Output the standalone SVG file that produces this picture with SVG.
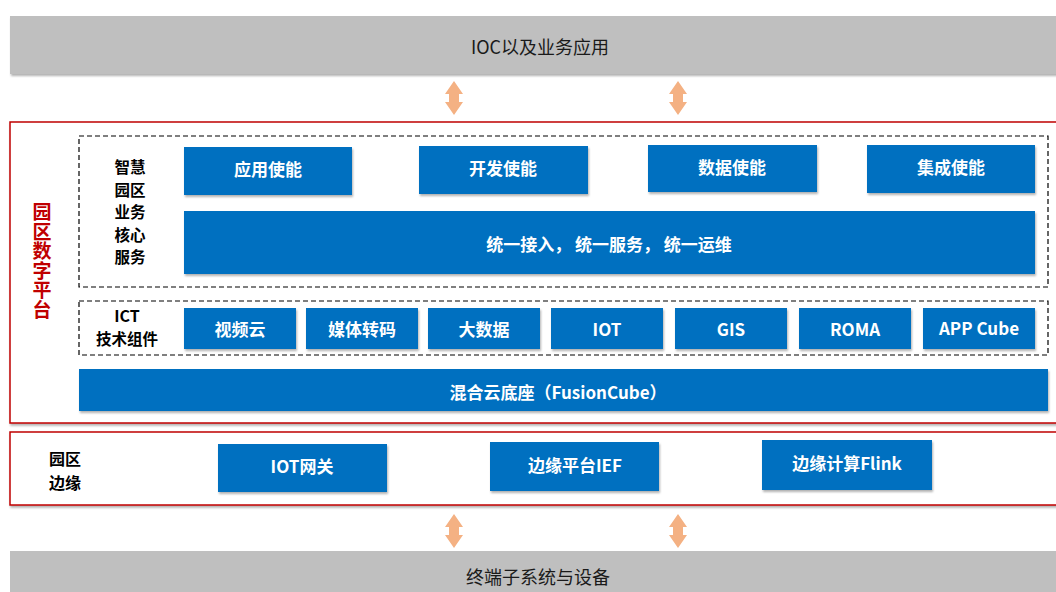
<svg xmlns="http://www.w3.org/2000/svg" width="1056" height="592" viewBox="0 0 1056 592">
<defs>
<filter id="sh" x="-5%" y="-10%" width="110%" height="130%">
<feDropShadow dx="1" dy="2" stdDeviation="1.2" flood-color="#000" flood-opacity="0.3"/>
</filter>
<path id="dbl" d="M0,-17 L9,-4 L5,-4 L5,4 L9,4 L0,17 L-9,4 L-5,4 L-5,-4 L-9,-4 Z"/>
</defs>
<style>
.gray{fill:#BFBFBF;}
.gt{font-family:"Noto Sans CJK SC","Noto Sans",sans-serif;font-size:18px;fill:#1a1a1a;text-anchor:middle;dominant-baseline:central;}
.blue{fill:#0070C0;filter:url(#sh);}
.bt{font-family:"Noto Sans CJK SC","Noto Sans",sans-serif;font-size:17px;font-weight:bold;fill:#fff;text-anchor:middle;dominant-baseline:central;}
.red{fill:#fff;stroke:#C00000;stroke-width:1.5;filter:url(#sh);}
.dash{fill:none;stroke:#000;stroke-width:1.2;stroke-dasharray:5 3;}
.lt{font-family:"Noto Sans CJK SC","Noto Sans",sans-serif;font-size:15.5px;font-weight:bold;fill:#000;text-anchor:middle;dominant-baseline:central;}
.lt16{font-size:16px;}
.rt{font-family:"Noto Sans CJK SC","Noto Sans",sans-serif;font-size:19px;font-weight:bold;fill:#C00000;text-anchor:middle;writing-mode:vertical-rl;letter-spacing:0.6px;}
.arr{fill:#F4B183;}
</style>

<g id="top-bar">
<rect class="gray" x="10" y="16" width="1060" height="58" filter="url(#sh)"/>
<text class="gt" x="540" y="46">IOC以及业务应用</text>
</g>

<g id="platform">
<rect class="red" x="10" y="122" width="1060" height="301"/>
<text class="rt" x="42" y="261">园区数字平台</text>
</g>

<g id="core-services">
<rect class="dash" x="79" y="136" width="969" height="151"/>
<text class="lt" x="130" y="166">智慧</text>
<text class="lt" x="130" y="188.5">园区</text>
<text class="lt" x="130" y="211">业务</text>
<text class="lt" x="130" y="233.5">核心</text>
<text class="lt" x="130" y="256">服务</text>
</g>
<g id="app-enable"><rect class="blue" x="184" y="147" width="168" height="48"/><text class="bt" x="268" y="168">应用使能</text></g>
<g id="dev-enable"><rect class="blue" x="419" y="146" width="169" height="48"/><text class="bt" x="503" y="167">开发使能</text></g>
<g id="data-enable"><rect class="blue" x="648" y="145" width="169" height="47"/><text class="bt" x="732" y="166">数据使能</text></g>
<g id="integ-enable"><rect class="blue" x="867" y="145" width="168" height="48"/><text class="bt" x="951" y="166">集成使能</text></g>
<g id="unified"><rect class="blue" x="184" y="211" width="851" height="63"/><text class="bt" x="609" y="243">统一接入，&#160;统一服务，&#160;统一运维</text></g>

<g id="ict">
<rect class="dash" x="79" y="301" width="969" height="54"/>
<text class="lt lt16" x="127" y="315">ICT</text>
<text class="lt" x="127" y="338">技术组件</text>
</g>
<g id="video"><rect class="blue" x="184" y="308" width="112" height="41"/><text class="bt" x="240" y="328">视频云</text></g>
<g id="media"><rect class="blue" x="306" y="308" width="112" height="41"/><text class="bt" x="362" y="328">媒体转码</text></g>
<g id="bigdata"><rect class="blue" x="428" y="308" width="112" height="41"/><text class="bt" x="484" y="328">大数据</text></g>
<g id="iot"><rect class="blue" x="551" y="308" width="112" height="41"/><text class="bt" x="607" y="328">IOT</text></g>
<g id="gis"><rect class="blue" x="675" y="308" width="112" height="41"/><text class="bt" x="731" y="328">GIS</text></g>
<g id="roma"><rect class="blue" x="799" y="308" width="112" height="41"/><text class="bt" x="855" y="328">ROMA</text></g>
<g id="appcube"><rect class="blue" x="923" y="308" width="112" height="41"/><text class="bt" x="979" y="327">APP Cube</text></g>

<g id="fusion"><rect class="blue" x="79" y="369" width="969" height="42"/><text class="bt" x="558" y="391">混合云底座（FusionCube）</text></g>

<g id="edge">
<rect class="red" x="10" y="432" width="1060" height="73"/>
<text class="lt lt16" x="65" y="458">园区</text>
<text class="lt lt16" x="65" y="482">边缘</text>
</g>
<g id="iot-gw"><rect class="blue" x="218" y="444" width="169" height="48"/><text class="bt" x="302" y="465">IOT网关</text></g>
<g id="ief"><rect class="blue" x="490" y="442" width="169" height="49"/><text class="bt" x="575" y="464">边缘平台IEF</text></g>
<g id="flink"><rect class="blue" x="762" y="440" width="170" height="50"/><text class="bt" x="847" y="462">边缘计算Flink</text></g>

<g id="bottom-bar">
<rect class="gray" x="10" y="551" width="1060" height="50"/>
<text class="gt" x="538" y="576">终端子系统与设备</text>
</g>

<g id="connectors">
<use href="#dbl" class="arr" x="454" y="98"/>
<use href="#dbl" class="arr" x="678" y="98"/>
<use href="#dbl" class="arr" x="454" y="531"/>
<use href="#dbl" class="arr" x="678" y="531"/>
</g>
</svg>
